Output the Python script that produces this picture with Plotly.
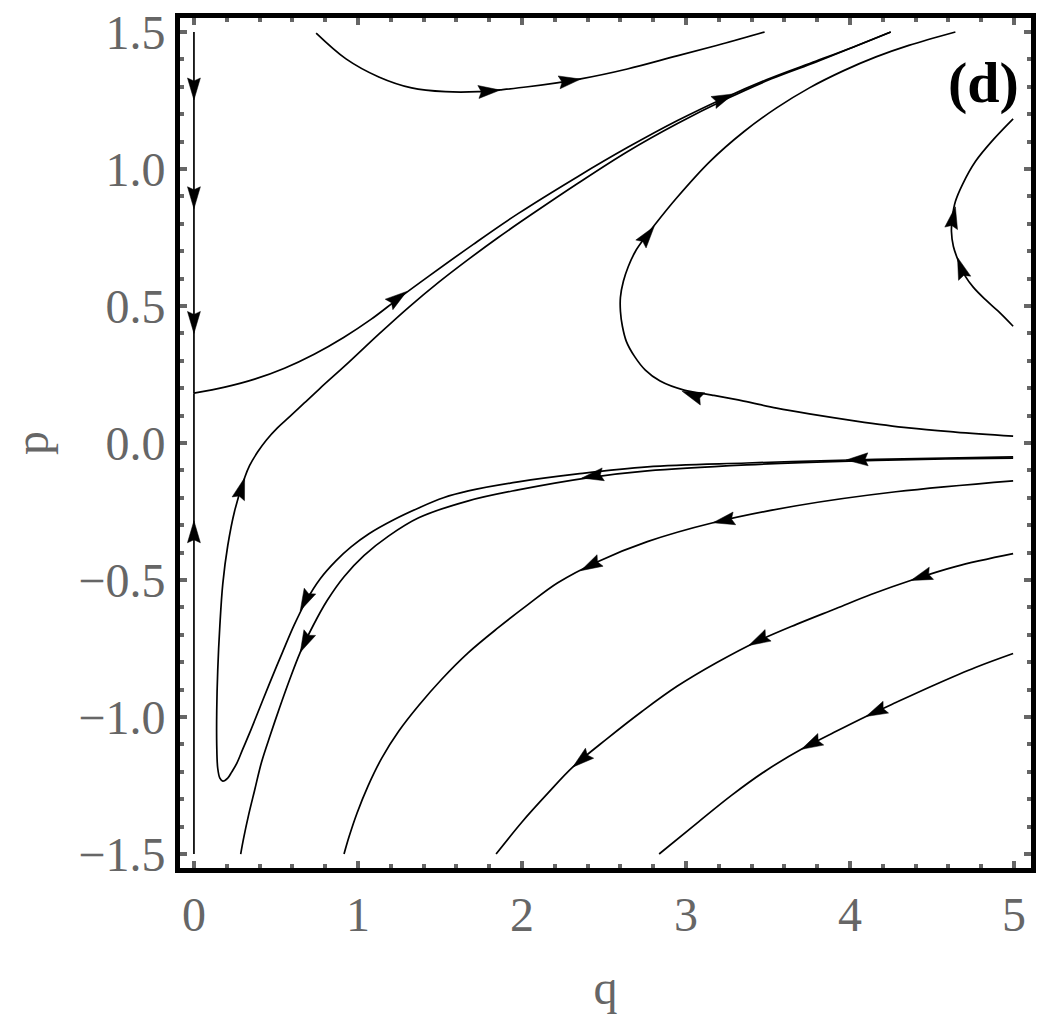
import numpy as np
import plotly.graph_objects as go

# ---------------- data (q, p), ordered along the flow ----------------
# vertical invariant line q = 0 (two halves flowing towards p ~ 0.18)
a_top_q = [0.0, 0.0]
a_top_p = [1.5, 0.182]
a_bot_q = [0.0, 0.0]
a_bot_p = [-1.5, 0.182]

# separatrix leaving the fixed point (0, 0.18)
b_q = [0.0, 0.188, 0.370, 0.552, 0.733, 0.915, 1.079, 1.248, 1.430, 1.703, 1.976, 2.339, 2.642,
       2.945, 3.248, 3.521, 3.794, 4.036, 4.248]
b_p = [0.182, 0.204, 0.233, 0.273, 0.324, 0.386, 0.451, 0.528, 0.608, 0.725, 0.837, 0.972, 1.078,
       1.176, 1.263, 1.333, 1.394, 1.449, 1.500]

# top curve
t_q = [0.745, 0.927, 1.127, 1.327, 1.533, 1.733, 1.867, 2.036, 2.358, 2.642, 2.945, 3.218, 3.479]
t_p = [1.496, 1.402, 1.336, 1.296, 1.282, 1.282, 1.289, 1.300, 1.329, 1.365, 1.413, 1.456, 1.500]

# V-shaped curve (from the right, down to p ~ -1.23, then up to the top)
c_q = [4.994, 4.582, 3.994, 3.370, 2.764, 2.339, 1.976, 1.673, 1.521, 1.370, 1.218, 1.067, 0.958,
       0.867, 0.770, 0.685, 0.612, 0.539, 0.461, 0.400, 0.339, 0.297, 0.261, 0.230, 0.206, 0.176,
       0.158, 0.145, 0.139, 0.139, 0.145, 0.158, 0.176, 0.206, 0.248, 0.309, 0.339, 0.388, 0.442,
       0.509, 0.582, 0.673, 0.764, 0.945, 1.127, 1.309, 1.491, 1.673, 1.855, 2.048, 2.339, 2.642,
       2.945, 3.248, 3.521, 3.794, 4.036, 4.248]
c_p = [-0.051, -0.055, -0.062, -0.073, -0.087, -0.113, -0.142, -0.175, -0.200, -0.237, -0.280, -0.331,
       -0.379, -0.429, -0.495, -0.575, -0.663, -0.765, -0.877, -0.968, -1.059, -1.118, -1.169, -1.201,
       -1.223, -1.234, -1.223, -1.187, -1.103, -0.976, -0.830, -0.666, -0.513, -0.375, -0.248, -0.127,
       -0.083, -0.033, 0.011, 0.055, 0.095, 0.146, 0.197, 0.295, 0.397, 0.495, 0.586, 0.670, 0.750,
       0.830, 0.947, 1.063, 1.165, 1.256, 1.329, 1.391, 1.449, 1.500]

# curve just below it, ending at the bottom edge
d_q = [4.994, 4.582, 3.994, 3.370, 2.764, 2.400, 1.976, 1.673, 1.370, 1.188, 1.036, 0.915, 0.812,
       0.727, 0.648, 0.582, 0.521, 0.467, 0.412, 0.370, 0.333, 0.303, 0.285]
d_p = [-0.055, -0.058, -0.066, -0.080, -0.102, -0.127, -0.171, -0.211, -0.273, -0.339, -0.411, -0.488,
       -0.575, -0.666, -0.764, -0.866, -0.968, -1.063, -1.165, -1.267, -1.358, -1.442, -1.500]

e_q = [4.994, 4.279, 3.673, 3.164, 2.764, 2.461, 2.218, 2.036, 1.855, 1.673, 1.509, 1.370, 1.248,
       1.145, 1.061, 0.994, 0.945, 0.915]
e_p = [-0.138, -0.178, -0.229, -0.291, -0.360, -0.433, -0.510, -0.590, -0.674, -0.765, -0.863, -0.958,
       -1.052, -1.150, -1.252, -1.351, -1.438, -1.500]

f_q = [4.994, 4.642, 4.382, 4.127, 3.915, 3.673, 3.430, 3.188, 2.945, 2.733, 2.521, 2.309, 2.158,
       2.000, 1.842]
f_p = [-0.404, -0.451, -0.499, -0.553, -0.604, -0.662, -0.725, -0.801, -0.888, -0.979, -1.078, -1.183,
       -1.278, -1.383, -1.500]

g_q = [4.994, 4.764, 4.521, 4.279, 4.097, 3.903, 3.703, 3.491, 3.279, 3.067, 2.836]
g_p = [-0.768, -0.819, -0.881, -0.947, -0.998, -1.056, -1.118, -1.194, -1.285, -1.387, -1.500]

# parabola-like curve on the right
h_q = [4.994, 4.642, 4.358, 4.036, 3.752, 3.552, 3.352, 3.158, 2.988, 2.842, 2.752, 2.685, 2.636,
       2.612, 2.600, 2.600, 2.618, 2.648, 2.691, 2.745, 2.806, 2.945, 3.145, 3.352, 3.552, 3.752,
       3.958, 4.158, 4.358, 4.642]
h_p = [0.025, 0.040, 0.055, 0.080, 0.106, 0.127, 0.153, 0.175, 0.193, 0.226, 0.266, 0.317, 0.371,
       0.426, 0.481, 0.532, 0.590, 0.644, 0.699, 0.746, 0.794, 0.896, 1.027, 1.136, 1.223, 1.296,
       1.358, 1.409, 1.451, 1.500]

# small curve at the right edge
r_q = [4.994, 4.903, 4.824, 4.752, 4.703, 4.661, 4.630, 4.618, 4.624, 4.642, 4.685, 4.764, 4.873, 4.994]
r_p = [0.426, 0.481, 0.524, 0.568, 0.608, 0.663, 0.717, 0.772, 0.826, 0.881, 0.943, 1.027, 1.107, 1.183]

curves = {
    "a_top": (a_top_q, a_top_p), "a_bot": (a_bot_q, a_bot_p), "b": (b_q, b_p),
    "t": (t_q, t_p), "c": (c_q, c_p), "d": (d_q, d_p), "e": (e_q, e_p),
    "f": (f_q, f_p), "g": (g_q, g_p), "h": (h_q, h_p), "r": (r_q, r_p),
}

# arrow tips: curve name, q, p
arrow_curve = ["a_top", "a_top", "a_top", "a_bot", "b", "b", "t", "t", "h", "h", "r", "r",
               "c", "c", "c", "d", "d", "e", "e", "f", "f", "f", "g", "g"]
arrow_q = [0.0, 0.0, 0.0, 0.0, 1.297, 3.29, 1.867, 2.358, 2.976, 2.806, 4.655, 4.642,
           3.976, 0.648, 0.309, 2.364, 0.648, 3.164, 2.358, 4.370, 3.382, 2.309, 4.097, 3.703]
arrow_p = [1.252, 0.855, 0.40, -0.284, 0.553, 1.274, 1.288, 1.328, 0.189, 0.790, 0.677, 0.862,
           -0.062, -0.612, -0.127, -0.128, -0.764, -0.291, -0.466, -0.502, -0.739, -1.183, -0.998, -1.118]

# ---------------- layout / style ----------------
W, H = 1042, 1015
M = dict(l=180, r=6, t=16, b=147)
X_RANGE = [-0.085, 5.103]
Y_RANGE = [-1.551, 1.551]
plot_w = W - M["l"] - M["r"]
plot_h = H - M["t"] - M["b"]
kx = plot_w / (X_RANGE[1] - X_RANGE[0])
ky = plot_h / (Y_RANGE[1] - Y_RANGE[0])

GRAY = "#666666"
FONT = "Liberation Serif, Times New Roman, serif"
LINE_W = 1.7
HEAD_LEN, HEAD_HALF, HEAD_NOTCH = 22.0, 6.5, 3.0

fig = go.Figure()
for name, (qs, ps) in curves.items():
    fig.add_trace(go.Scatter(x=qs, y=ps, mode="lines",
                             line=dict(color="black", width=LINE_W, shape="spline", smoothing=1.0),
                             hoverinfo="skip", showlegend=False))


def direction(name, q, p):
    qs, ps = np.array(curves[name][0]) * kx, np.array(curves[name][1]) * ky
    P = np.array([q * kx, p * ky])
    best, bd = None, 1e18
    for i in range(len(qs) - 1):
        A = np.array([qs[i], ps[i]]); B = np.array([qs[i + 1], ps[i + 1]])
        AB = B - A
        L2 = AB @ AB
        t = 0.0 if L2 == 0 else np.clip((P - A) @ AB / L2, 0, 1)
        dist = np.linalg.norm(A + t * AB - P)
        if dist < bd:
            bd, best = dist, AB / np.sqrt(L2)
    return best


for name, q, p in zip(arrow_curve, arrow_q, arrow_p):
    u = direction(name, q, p)
    n = np.array([-u[1], u[0]])
    T = np.array([q * kx, p * ky])
    back = T - HEAD_LEN * u
    pts = [T, back + HEAD_HALF * n, T - (HEAD_LEN - HEAD_NOTCH) * u, back - HEAD_HALF * n, T]
    fig.add_trace(go.Scatter(x=[pt[0] / kx for pt in pts], y=[pt[1] / ky for pt in pts],
                             mode="lines", fill="toself", fillcolor="black",
                             line=dict(color="black", width=0.5),
                             hoverinfo="skip", showlegend=False))

axis_common = dict(showgrid=False, zeroline=False, showline=True, linewidth=5, linecolor="black",
                   mirror="allticks", ticks="inside", ticklen=7, tickwidth=4, tickcolor=GRAY,
                   tickfont=dict(family=FONT, size=48, color=GRAY),
                   title_font=dict(family=FONT, size=48, color=GRAY))

fig.update_xaxes(range=X_RANGE, tickvals=[0, 1, 2, 3, 4, 5],
                 minor=dict(dtick=0.2, tick0=0, ticks="inside", ticklen=4, tickwidth=4, tickcolor=GRAY,
                            showgrid=False),
                 title_text="q", title_standoff=32, **axis_common)
fig.update_yaxes(range=Y_RANGE, tickvals=[-1.5, -1.0, -0.5, 0.0, 0.5, 1.0, 1.5], tickformat=".1f",
                 minor=dict(dtick=0.1, tick0=0, ticks="inside", ticklen=4, tickwidth=4, tickcolor=GRAY,
                            showgrid=False),
                 title_text="p", title_standoff=16, **axis_common)

fig.add_annotation(x=4.812, y=1.314, text="<b>(d)</b>", showarrow=False, xanchor="center", yanchor="middle",
                   font=dict(family=FONT, size=58, color="black"))

fig.update_layout(width=W, height=H, margin=M, plot_bgcolor="white", paper_bgcolor="white")
fig.write_html("out.html")
